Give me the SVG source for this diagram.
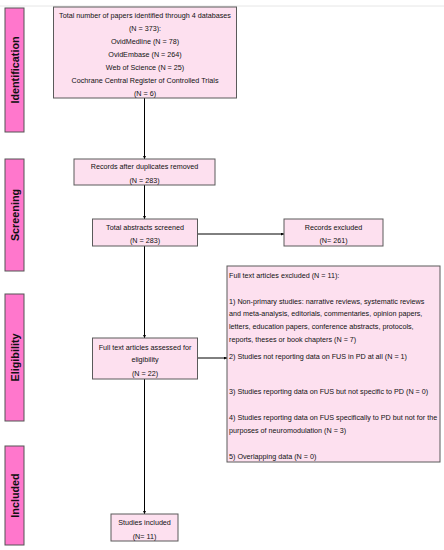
<svg xmlns="http://www.w3.org/2000/svg" width="444" height="550" viewBox="0 0 444 550">
<defs>
<marker id="ah" markerWidth="3" markerHeight="3" refX="3" refY="1.5" orient="auto" markerUnits="userSpaceOnUse">
<path d="M0,0 L3,1.5 L0,3 Z" fill="#000"/>
</marker>
</defs>
<style>
.box{fill:#fde0ef;stroke:#5a5a5a;stroke-width:1}
.bar{fill:#ff77cc;stroke:#555;stroke-width:1}
.t{font-family:"Liberation Sans",Arial,sans-serif;font-size:7.2px;fill:#111;text-anchor:middle}
.l{font-family:"Liberation Sans",Arial,sans-serif;font-size:7.2px;fill:#111}
.h{font-family:"Liberation Sans",Arial,sans-serif;font-size:10.8px;font-weight:bold;fill:#111;text-anchor:middle}
.c{stroke:#000;stroke-width:1;fill:none}
</style>
<rect width="444" height="550" fill="#fff"/>
<line x1="0" y1="6" x2="444" y2="6" stroke="#e0e0e0" stroke-width="0.8"/>
<g id="bar-identification"><rect class="bar" x="5" y="8" width="19" height="124"/><text class="h" transform="translate(18.5,70) rotate(-90)">Identification</text></g>
<g id="bar-screening"><rect class="bar" x="5" y="159" width="19" height="112"/><text class="h" transform="translate(18.5,215) rotate(-90)">Screening</text></g>
<g id="bar-eligibility"><rect class="bar" x="5" y="294" width="19" height="127"/><text class="h" transform="translate(18.5,357.5) rotate(-90)">Eligibility</text></g>
<g id="bar-included"><rect class="bar" x="5" y="446" width="19" height="99"/><text class="h" transform="translate(18.5,495.5) rotate(-90)">Included</text></g>
<g id="connectors">
<line class="c" x1="144.5" y1="98" x2="144.5" y2="159" marker-end="url(#ah)"/>
<line class="c" x1="144.5" y1="185" x2="144.5" y2="219" marker-end="url(#ah)"/>
<line class="c" x1="197" y1="234" x2="284" y2="234" marker-end="url(#ah)"/>
<line class="c" x1="144.5" y1="246" x2="144.5" y2="338" marker-end="url(#ah)"/>
<line class="c" x1="197" y1="358" x2="227" y2="358" marker-end="url(#ah)"/>
<line class="c" x1="144.5" y1="379" x2="144.5" y2="514" marker-end="url(#ah)"/>
</g>
<g id="total-papers"><rect class="box" x="53.5" y="7" width="183" height="91"/>
<text class="t" x="145" y="17.8">Total number of papers identified through 4 databases</text>
<text class="t" x="145" y="30.6">(N = 373):</text>
<text class="t" x="145" y="43.6">OvidMedline (N = 78)</text>
<text class="t" x="145" y="56.6">OvidEmbase (N = 264)</text>
<text class="t" x="145" y="69.6">Web of Science (N = 25)</text>
<text class="t" x="145" y="82.6">Cochrane Central Register of Controlled Trials</text>
<text class="t" x="145" y="95.6">(N = 6)</text>
</g>
<g id="after-duplicates"><rect class="box" x="74" y="159" width="141" height="26"/>
<text class="t" x="144.5" y="169.2">Records after duplicates removed</text>
<text class="t" x="144.5" y="183.2">(N = 283)</text>
</g>
<g id="abstracts-screened"><rect class="box" x="92.5" y="219" width="105" height="27"/>
<text class="t" x="145" y="230.2">Total abstracts screened</text>
<text class="t" x="145" y="243.2">(N = 283)</text>
</g>
<g id="records-excluded"><rect class="box" x="284" y="219" width="99" height="27"/>
<text class="t" x="333.5" y="230.2">Records excluded</text>
<text class="t" x="333.5" y="243.2">(N= 261)</text>
</g>
<g id="fulltext-assessed"><rect class="box" x="92.5" y="338" width="105" height="41"/>
<text class="t" x="145" y="349.8">Full text articles assessed for</text>
<text class="t" x="145" y="361.8">eligibility</text>
<text class="t" x="145" y="375.8">(N = 22)</text>
</g>
<g id="fulltext-excluded"><rect class="box" x="227" y="266" width="213" height="196"/>
<text class="l" x="229" y="278.2">Full text articles excluded (N = 11):</text>
<text class="l" x="229" y="303.5">1) Non-primary studies: narrative reviews, systematic reviews</text>
<text class="l" x="229" y="315.8">and meta-analysis, editorials, commentaries, opinion papers,</text>
<text class="l" x="229" y="328.8">letters, education papers, conference abstracts, protocols,</text>
<text class="l" x="229" y="341.5">reports, theses or book chapters (N = 7)</text>
<text class="l" x="229" y="359.2">2) Studies not reporting data on FUS in PD at all (N = 1)</text>
<text class="l" x="229" y="393.5">3) Studies reporting data on FUS but not specific to PD (N = 0)</text>
<text class="l" x="229" y="419.8">4) Studies reporting data on FUS specifically to PD but not for the</text>
<text class="l" x="229" y="433.2">purposes of neuromodulation (N = 3)</text>
<text class="l" x="229" y="458.5">5) Overlapping data (N = 0)</text>
</g>
<g id="studies-included"><rect class="box" x="111" y="514" width="67" height="27"/>
<text class="t" x="144.5" y="525.2">Studies included</text>
<text class="t" x="144.5" y="538.7">(N= 11)</text>
</g>
</svg>
